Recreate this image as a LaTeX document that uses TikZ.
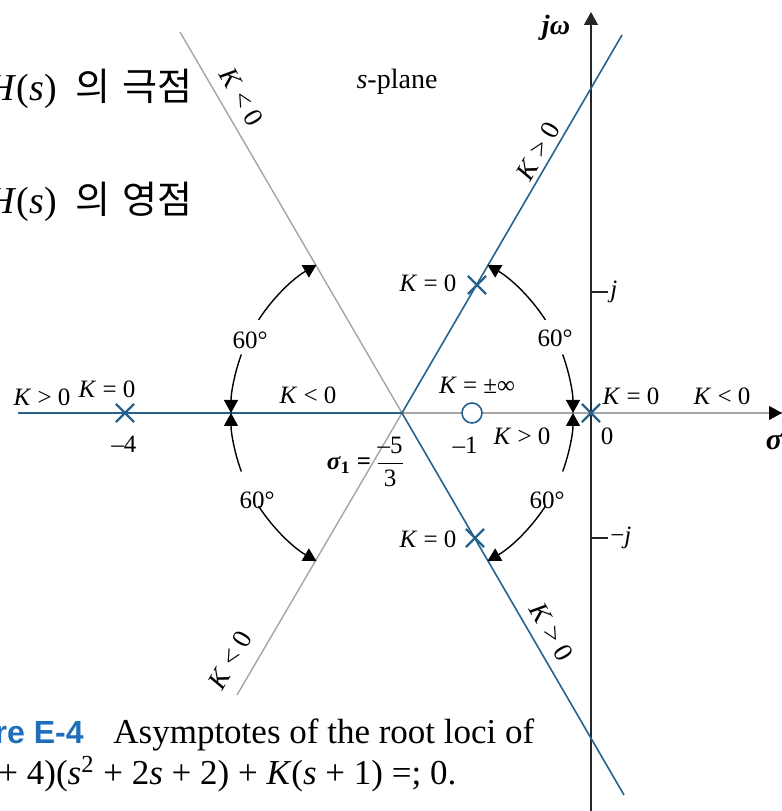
\documentclass[tikz,border=0pt]{standalone}
\usepackage{amsmath}
\usepackage{fontspec}
\setmainfont{Liberation Serif}
\newfontfamily\krfont{Noto Sans CJK KR}
\newfontfamily\capfont{Liberation Sans}
\usetikzlibrary{arrows.meta,calc,shapes.misc}
\definecolor{locusblue}{RGB}{38,98,140}
\definecolor{asymgray}{RGB}{165,165,165}
\definecolor{capblue}{RGB}{30,110,185}
\newcommand{\vK}{\textit{K}}
\newcommand{\vs}{\textit{s}}

\tikzset{
  locus/.style={locusblue, line width=0.8pt},
  asym/.style={asymgray, line width=0.7pt},
  axis/.style={black!85, line width=0.7pt},
  angarrow/.style={black, line width=0.7pt, -{Triangle[length=6.5pt,width=7pt]}},
  lbl/.style={font=\fontsize{12.5}{14}\selectfont, inner sep=1pt},
  rotlbl/.style={font=\fontsize{13.5}{15}\selectfont, inner sep=1pt},
  krlbl/.style={font=\fontsize{19}{22}\selectfont\krfont, inner sep=0pt},
  capt/.style={font=\fontsize{17.5}{20}\selectfont, inner sep=0pt},
  polemark/.style={cross out, draw=locusblue, line width=1.1pt, minimum size=8pt, inner sep=0pt},
  zeromark/.style={circle, draw=locusblue, fill=white, line width=0.8pt, minimum size=10pt, inner sep=0pt}
}

\begin{document}
\begin{tikzpicture}[x=0.5pt, y=0.5pt]
  \useasboundingbox (0,0) rectangle (782,811);

  \coordinate (O) at (402,398);
  \coordinate (lft) at (18,398);
  \coordinate (rgt) at (782,398);
  \coordinate (bot) at (591,0);
  \coordinate (top) at (591,799);
  \coordinate (ur) at (622,776);
  \coordinate (lr) at (624,16);
  \coordinate (ul) at (180,779);
  \coordinate (ll) at (237,116);
  \coordinate (tj) at (608,519);
  \coordinate (tmj) at (608,273);

  \draw[asym] (O) -- (ul);
  \draw[asym] (O) -- (ll);
  \draw[asym] (O) -- (rgt);
  \draw[black, -{Triangle[length=6.5pt,width=7pt]}] ($(rgt)-(1,0)$) -- (rgt);
  \draw[axis, -{Triangle[length=6.5pt,width=7pt]}] (bot) -- (top);
  \draw[axis] (591,519) -- (tj);
  \draw[axis] (591,273) -- (tmj);
  \draw[locus] (lft) -- (O);
  \draw[locus] (O) -- (ur);
  \draw[locus] (O) -- (lr);

  \node[polemark] (p4) at (125,398) {};
  \node[polemark] (p0) at (591,398) {};
  \node[polemark] (pu) at (477,526) {};
  \node[polemark] (pl) at (475,273) {};
  \node[zeromark] (z1) at (472,398) {};

  \foreach \a/\b in {147/120,160/180,33/60,20/0,-33/-60,-20/0,213/240,200/180}
    \draw[angarrow] ($(O)+(\a:171)$) arc[start angle=\a, end angle=\b, radius=171];

  \node[lbl, font=\fontsize{14}{16}\selectfont\bfseries\itshape] (jw) at (556,783) {jω};
  \node[lbl, font=\fontsize{15}{16}\selectfont\bfseries\itshape] (sig) at (774,369) {σ};
  \node[lbl, anchor=west] (lj) at (tj) {\textit{j}};
  \node[lbl, anchor=west] (lmj) at (tmj) {−\textit{j}};
  \node[lbl] (splane) at (397,729) {\fontsize{14}{16}\selectfont\textit{s}-plane};

  \node[rotlbl, rotate=-60] (kul) at (242,714) {\vK{} < 0};
  \node[rotlbl, rotate=60] (kur) at (538,660) {\vK{} > 0};
  \node[rotlbl, rotate=60] (kll) at (230,151) {\vK{} < 0};
  \node[rotlbl, rotate=-60] (klr) at (552,179) {\vK{} > 0};

  \node[lbl] (kpos1) at (42,414) {\vK{} > 0};
  \node[lbl] (k0a) at (107,422) {\vK{} = 0};
  \node[lbl] (m4) at (124,367) {–4};
  \node[lbl] (kneg1) at (308,416) {\vK{} < 0};
  \node[lbl] (a1) at (250,471) {60°};
  \node[lbl] (a2) at (555,473) {60°};
  \node[lbl] (a3) at (547,311) {60°};
  \node[lbl] (a4) at (257,311) {60°};
  \node[lbl] (k0b) at (428,528) {\vK{} = 0};
  \node[lbl] (kinf) at (477,426) {\vK{} = ±∞};
  \node[lbl] (m1) at (465,366) {–1};
  \node[lbl] (kpos2) at (522,375) {\vK{} > 0};
  \node[lbl] (k0c) at (428,272) {\vK{} = 0};
  \node[lbl] (sig1) at (366,349) {\textbf{\textit{σ}\textsubscript{1} =}\,$\dfrac{\text{–5}}{\text{3}}$};
  \node[lbl] (k0d) at (631,415) {\vK{} = 0};
  \node[lbl] (kneg2) at (722,415) {\vK{} < 0};
  \node[lbl] (zero) at (607,375) {0};

  \node[krlbl, anchor=east] (poles) at (193,722) {\fontspec{Liberation Serif}\textit{H}(\textit{s})\hspace{5pt}\krfont{} 의\hspace{2pt} 극점};
  \node[krlbl, anchor=east] (zeros) at (193,609) {\fontspec{Liberation Serif}\textit{H}(\textit{s})\hspace{5pt}\krfont{} 의\hspace{2pt} 영점};

  \node[capt, anchor=base west] (capa) at (113,68) {Asymptotes of the root loci of};
  \node[capt, anchor=base east, font=\fontsize{16}{18}\selectfont\capfont\bfseries, text=capblue] (capf) at (84,68) {Figure E-4};
  \node[capt, anchor=base west] (capb) at (-2,26) {\llap{\vs(\vs{} }+ 4)(\vs\textsuperscript{2} + 2\vs{} + 2) + \vK(\vs{} + 1) =; 0.};
\end{tikzpicture}
\end{document}
